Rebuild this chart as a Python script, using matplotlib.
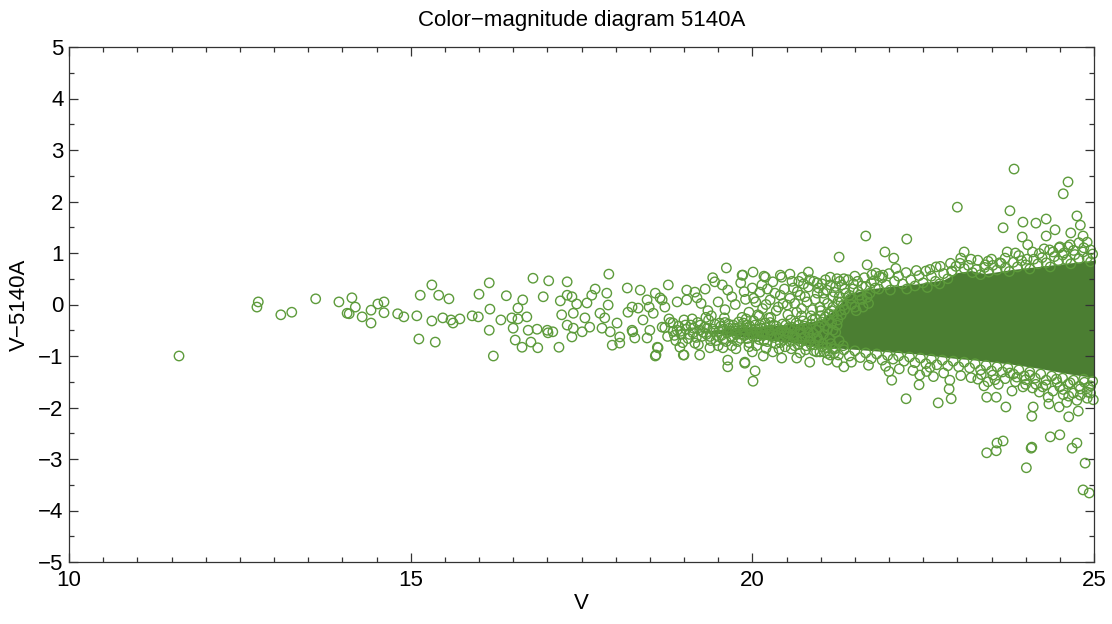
import numpy as np
import matplotlib
matplotlib.use("Agg")
import matplotlib.pyplot as plt
from matplotlib.ticker import MultipleLocator

# === STAR LISTS: (V, V-5140A) ===
bright_stars = [
    (11.61, -1.00), (12.77, 0.05), (12.75, -0.05), (13.10, -0.20), (13.26, -0.15),
    (13.61, 0.11), (13.95, 0.05), (14.14, 0.13), (14.19, -0.05), (14.07, -0.17),
    (14.10, -0.18), (14.29, -0.24), (14.42, -0.11), (14.42, -0.36), (14.52, 0.01),
    (14.61, 0.05), (14.61, -0.16), (14.81, -0.18), (14.90, -0.24), (15.09, -0.22),
    (15.14, 0.18), (15.12, -0.67), (15.31, 0.38), (15.41, 0.18), (15.56, 0.11),
    (15.31, -0.32), (15.36, -0.73), (15.47, -0.26), (15.59, -0.30), (15.62, -0.36),
    (15.72, -0.28), (15.90, -0.22), (15.99, -0.24), (16.00, 0.20), (16.15, 0.42),
    (16.16, -0.09), (16.15, -0.50), (16.21, -1.00), (16.32, -0.30), (16.40, 0.17),
    (16.48, -0.26), (16.50, -0.46), (16.57, -0.07), (16.57, -0.28), (16.64, 0.09),
    (16.63, -0.83), (16.53, -0.69), (16.70, -0.24), (16.72, -0.50), (16.79, 0.51),
    (16.76, -0.73), (16.85, -0.48), (16.86, -0.84), (16.94, 0.15), (17.02, 0.46),
    (17.00, -0.50), (17.01, -0.55), (17.08, -0.53), (17.17, -0.83), (17.19, 0.07),
    (17.21, -0.20), (17.29, 0.44), (17.29, 0.18), (17.36, 0.15), (17.38, -0.17),
    (17.29, -0.40), (17.38, -0.46), (17.36, -0.63), (17.43, 0.01), (17.51, -0.53),
    (17.55, -0.26), (17.58, 0.03), (17.62, -0.44), (17.65, 0.18), (17.70, 0.30),
    (17.77, -0.17), (17.80, -0.46), (17.87, 0.22), (17.90, 0.59), (17.89, -0.01),
    (17.84, -0.26), (17.92, -0.53), (17.95, -0.79), (18.02, -0.36), (18.06, -0.63),
    (18.17, 0.32), (18.18, -0.15), (18.24, -0.50), (18.28, -0.65), (18.33, -0.07),
    (18.36, 0.28), (18.40, -0.30), (18.46, 0.09), (18.50, -0.50), (18.55, -0.17),
    (18.58, 0.22), (18.59, -0.98), (18.61, -0.83), (18.65, 0.13), (18.68, -0.44),
    (18.72, -0.05), (18.77, 0.38), (18.84, -0.36), (18.90, -0.50), (18.99, -0.98),
    (19.04, 0.28), (18.94, -0.83), (18.24, -0.05), (18.49, -0.05), (18.68, 0.09),
    (18.90, 0.05), (19.04, 0.09), (18.06, -0.75), (18.25, -0.53), (18.46, -0.65),
    (18.58, -1.00), (18.62, -0.84), (19.00, -0.98), (19.23, -0.98), (19.38, -0.84),
    (19.57, -0.84), (19.64, -1.08), (19.64, -1.21), (19.89, -1.14), (20.00, -0.92),
    (20.16, -1.00), (20.30, -0.92), (20.43, -1.04), (20.65, -1.04), (20.70, -0.94),
    (20.99, -0.92), (21.14, -0.98), (21.24, -1.12),
]

main_band = [
    (18.72, -0.45), (18.76, -0.62), (18.80, -0.35), (18.84, -0.52), (18.88, -0.70),
    (18.92, -0.42), (18.96, -0.58), (19.00, -0.30), (19.03, -0.48), (19.06, -0.66),
    (19.10, -0.40), (19.13, -0.55), (19.16, -0.75), (19.20, -0.35), (19.23, -0.50),
    (19.26, -0.62), (19.30, -0.44), (19.33, -0.58), (19.36, -0.30), (19.39, -0.70),
    (19.42, -0.48), (19.45, -0.38), (19.48, -0.60), (19.51, -0.52), (19.54, -0.42),
    (19.57, -0.68), (19.60, -0.35), (19.63, -0.55), (19.66, -0.46), (19.69, -0.62),
    (19.72, -0.40), (19.75, -0.52), (19.78, -0.72), (19.81, -0.45), (19.84, -0.58),
    (19.87, -0.36), (19.90, -0.50), (19.93, -0.66), (19.96, -0.42), (19.99, -0.56),
    (20.02, -0.32), (20.05, -0.48), (20.08, -0.62), (20.11, -0.40), (20.14, -0.54),
    (20.17, -0.70), (20.20, -0.45), (20.23, -0.58), (20.26, -0.35), (20.29, -0.50),
    (20.32, -0.64), (20.35, -0.42), (20.38, -0.56), (20.41, -0.74), (20.44, -0.38),
    (20.47, -0.52), (20.50, -0.62), (20.53, -0.45), (20.56, -0.30), (20.59, -0.58),
    (20.62, -0.48), (20.65, -0.68), (20.68, -0.40), (20.71, -0.55), (20.74, -0.32),
    (20.77, -0.62), (20.80, -0.46), (20.83, -0.72), (20.86, -0.38), (20.89, -0.56),
    (20.92, -0.28), (20.95, -0.64), (20.98, -0.44), (21.01, -0.34), (21.04, -0.58),
    (21.07, -0.24), (21.10, -0.48), (21.13, -0.66), (21.16, -0.36), (21.19, -0.20),
    (21.22, -0.54), (21.25, -0.30), (21.28, -0.12), (19.70, -0.80), (19.95, -0.82),
    (20.20, -0.85), (20.48, -0.82), (19.40, -0.22), (19.85, -0.25), (20.10, -0.22),
    (18.95, -0.52), (19.02, -0.40), (19.08, -0.58), (19.14, -0.46), (19.18, -0.64),
    (19.24, -0.40), (19.28, -0.54), (19.34, -0.46), (19.38, -0.62), (19.44, -0.52),
    (19.47, -0.70), (19.52, -0.36), (19.55, -0.60), (19.58, -0.48), (19.62, -0.72),
    (19.65, -0.38), (19.68, -0.52), (19.71, -0.66), (19.74, -0.46), (19.77, -0.58),
    (19.80, -0.34), (19.83, -0.66), (19.86, -0.48), (19.89, -0.60), (19.92, -0.40),
    (19.95, -0.74), (19.98, -0.48), (20.01, -0.62), (20.04, -0.40), (20.07, -0.54),
    (20.10, -0.68), (20.13, -0.46), (20.16, -0.60), (20.19, -0.36), (20.22, -0.72),
    (20.25, -0.50), (20.28, -0.62), (20.31, -0.40), (20.34, -0.76), (20.37, -0.48),
    (20.40, -0.62), (20.43, -0.50), (20.46, -0.68), (20.49, -0.40), (20.52, -0.56),
    (20.55, -0.72), (20.58, -0.44), (20.61, -0.64), (20.64, -0.36), (20.67, -0.78),
    (20.70, -0.48), (20.73, -0.66), (20.76, -0.42), (20.79, -0.80), (20.82, -0.54),
    (20.85, -0.66), (20.88, -0.30), (20.91, -0.78), (20.94, -0.50), (20.97, -0.70),
    (21.00, -0.22), (21.03, -0.76), (21.06, -0.42), (21.09, -0.84), (21.12, -0.30),
    (21.15, -0.76), (21.18, -0.50), (21.21, -0.86), (21.24, -0.40), (21.27, -0.70),
    (21.30, -0.20), (21.33, -0.80),
    (18.78, -0.28), (18.86, -0.60), (18.98, -0.74), (19.12, -0.28), (19.21, -0.78),
    (19.32, -0.25), (19.50, -0.80), (19.59, -0.26), (19.76, -0.86), (19.91, -0.28),
    (20.06, -0.80), (20.24, -0.26), (20.39, -0.86), (20.57, -0.86), (20.72, -0.22),
    (20.90, -0.90), (21.05, -0.92), (21.20, -0.94),
]

upper_cloud = [
    (19.16, 0.24), (19.19, 0.13), (19.31, 0.30), (19.42, 0.52), (19.45, 0.44),
    (19.62, 0.71), (19.56, 0.38), (19.64, 0.28), (19.70, 0.15), (19.85, 0.57),
    (19.83, 0.42), (20.19, 0.53), (20.00, 0.32), (20.11, 0.24), (20.30, 0.44),
    (20.43, 0.53), (20.26, 0.09), (20.41, 0.18), (20.60, 0.32), (20.70, 0.18),
    (20.82, 0.34), (20.95, 0.22), (21.09, 0.28), (21.18, 0.15), (20.51, -0.01),
    (20.80, 0.05), (20.99, -0.05), (21.18, -0.05), (19.50, 0.05), (19.60, -0.10),
    (19.75, 0.00), (19.90, 0.10), (19.95, -0.15), (20.05, 0.05), (20.15, -0.08),
    (20.35, -0.12), (20.55, 0.12), (20.65, -0.15), (20.75, 0.40), (20.88, -0.10),
    (20.90, 0.45), (21.02, 0.40), (21.05, 0.10), (21.12, -0.18), (21.22, 0.35),
    (21.25, 0.05), (21.28, 0.45), (19.35, -0.12), (19.25, 0.02), (19.88, 0.25),
    (20.22, 0.30), (20.45, 0.02), (20.68, 0.45), (21.35, -0.10), (21.45, 0.00),
    (21.52, -0.12), (21.62, -0.05), (21.70, 0.02),
    (20.02, 0.12), (20.08, -0.20), (20.14, 0.38), (20.20, 0.00), (20.27, -0.25),
    (20.33, 0.22), (20.38, -0.05), (20.47, 0.30), (20.52, -0.20), (20.58, 0.45),
    (20.62, 0.02), (20.66, 0.25), (20.72, -0.08), (20.77, 0.15), (20.84, 0.48),
    (20.86, -0.22), (20.92, 0.10), (20.97, 0.32), (21.00, -0.12), (21.04, 0.22),
    (21.07, 0.48), (21.10, 0.02), (21.14, 0.38), (21.16, -0.12), (21.20, 0.24),
    (21.24, 0.50), (21.27, 0.15), (21.31, 0.38), (21.33, -0.02), (21.37, 0.22),
    (21.40, 0.48), (21.44, 0.12), (21.47, 0.30), (21.50, -0.05), (21.54, 0.45),
    (21.57, 0.18), (21.60, 0.36), (21.64, 0.52), (21.68, 0.14), (21.74, 0.42),
    (21.80, 0.32), (21.86, 0.55),
]

upper_edge = [
    (21.30, 0.05), (21.35, 0.30), (21.42, 0.18), (21.48, 0.40), (21.55, 0.25),
    (21.60, 0.10), (21.66, 0.35), (21.72, 0.22), (21.78, 0.46), (21.85, 0.30),
    (21.90, 0.52), (21.96, 0.38), (22.02, 0.28), (22.08, 0.45), (22.14, 0.55),
    (22.20, 0.40), (22.26, 0.30), (22.32, 0.48), (22.38, 0.36), (22.44, 0.56),
    (22.50, 0.42), (22.56, 0.33), (22.62, 0.55), (22.68, 0.45), (22.74, 0.40),
    (22.80, 0.60), (22.86, 0.50), (22.92, 0.64), (22.98, 0.74), (23.04, 0.80),
    (23.10, 0.70), (23.16, 0.76), (23.22, 0.62), (23.28, 0.68), (23.34, 0.58),
    (23.40, 0.72), (23.46, 0.63), (23.52, 0.76), (23.58, 0.67), (23.64, 0.80),
    (23.70, 0.71), (23.76, 0.64), (23.82, 0.82), (23.88, 0.73), (23.94, 0.85),
    (24.00, 0.77), (24.06, 0.69), (24.12, 0.88), (24.18, 0.79), (24.24, 0.91),
    (24.30, 0.81), (24.36, 0.73), (24.42, 0.93), (24.48, 0.85), (24.54, 0.96),
    (24.60, 0.87), (24.66, 0.79), (24.72, 0.97), (24.78, 0.89), (24.84, 1.02),
    (24.90, 0.91), (24.95, 0.83), (24.98, 0.98), (24.70, 1.05), (24.85, 1.10),
    (24.56, 1.00), (24.40, 1.02), (24.20, 0.99), (23.90, 0.95), (23.50, 0.88),
    (23.30, 0.86),
    (21.50, 0.55), (21.75, 0.58), (22.00, 0.60), (22.25, 0.62), (22.40, 0.66),
    (22.60, 0.68), (22.75, 0.74), (23.05, 0.90), (23.20, 0.88), (23.45, 0.84),
    (23.70, 0.90), (23.85, 1.00), (24.10, 1.02), (24.35, 1.06), (24.50, 1.12),
    (24.65, 1.16), (24.95, 1.06), (24.78, 1.20), (22.10, 0.70), (22.90, 0.80),
]

lower_edge = [
    (20.62, -0.80), (20.70, -0.72), (20.78, -0.88), (20.86, -0.78), (20.94, -0.92),
    (21.02, -0.82), (21.10, -0.95), (21.18, -0.86), (21.26, -0.98), (21.34, -0.88),
    (21.42, -1.00), (21.50, -0.90), (21.58, -1.03), (21.66, -0.94), (21.74, -1.05),
    (21.82, -0.96), (21.90, -1.08), (21.98, -0.99), (22.06, -1.06), (22.14, -1.00),
    (22.22, -1.10), (22.30, -1.02), (22.38, -1.13), (22.46, -1.04), (22.54, -1.15),
    (22.62, -1.06), (22.70, -1.17), (22.78, -1.08), (22.86, -1.19), (22.94, -1.10),
    (23.02, -1.21), (23.10, -1.12), (23.18, -1.23), (23.26, -1.15), (23.34, -1.27),
    (23.42, -1.18), (23.50, -1.29), (23.58, -1.21), (23.66, -1.31), (23.74, -1.23),
    (23.82, -1.35), (23.90, -1.27), (23.98, -1.39), (24.06, -1.31), (24.14, -1.43),
    (24.22, -1.35), (24.30, -1.47), (24.38, -1.39), (24.46, -1.51), (24.54, -1.43),
    (24.62, -1.55), (24.70, -1.47), (24.78, -1.59), (24.86, -1.51), (24.92, -1.61),
    (24.98, -1.49), (23.30, -1.45), (23.45, -1.50), (23.60, -1.55), (23.85, -1.50),
    (24.00, -1.55), (24.25, -1.60), (24.40, -1.68), (24.55, -1.65), (24.70, -1.72),
    (24.80, -1.64), (24.95, -1.72), (24.90, -1.82), (24.75, -1.86), (24.60, -1.90),
    (24.15, -1.55), (24.45, -1.45), (24.65, -1.52), (24.85, -1.45),
    (21.10, -1.08), (21.45, -1.12), (21.70, -1.18), (21.95, -1.20), (22.15, -1.25),
    (22.35, -1.28), (22.55, -1.30), (22.65, -1.40), (22.80, -1.33), (23.05, -1.38),
    (23.20, -1.42), (23.35, -1.36), (23.55, -1.46), (23.70, -1.44), (24.00, -1.46),
    (24.10, -1.62), (24.30, -1.56), (24.55, -1.75), (24.80, -1.76), (24.95, -1.58),
    (22.00, -1.30), (22.60, -1.22),
]

outliers = [
    (23.83, 2.63), (24.62, 2.38), (24.55, 2.15), (23.00, 1.89), (23.77, 1.82),
    (23.67, 1.49), (23.96, 1.60), (24.15, 1.58), (24.30, 1.66), (24.43, 1.45),
    (23.95, 1.31), (24.30, 1.33), (24.75, 1.72), (24.80, 1.54), (24.66, 1.39),
    (24.84, 1.33), (24.90, 1.21), (24.03, 1.16), (24.27, 1.08), (24.49, 1.10),
    (24.62, 1.12), (23.73, 1.02), (23.10, 1.02), (21.66, 1.33), (22.26, 1.27),
    (21.94, 1.02), (22.07, 0.90), (21.27, 0.92), (21.68, 0.77), (21.81, 0.61),
    (21.91, 0.57), (20.01, 0.63), (20.17, 0.55), (19.86, 0.57), (20.41, 0.57),
    (20.55, 0.59), (20.82, 0.63), (20.73, 0.53), (21.14, 0.53), (21.34, 0.50),
    (20.95, 0.42), (22.54, 0.65), (22.69, 0.73), (22.92, 0.65), (23.41, 0.77),
    (23.62, 0.81), (24.02, 0.88),
    (22.04, -1.47), (22.45, -1.37), (22.44, -1.56), (22.25, -1.83), (22.72, -1.91),
    (22.89, -1.47), (22.88, -1.64), (22.91, -1.83), (23.39, -1.58), (23.43, -1.80),
    (23.57, -1.80), (23.71, -1.99), (23.80, -1.68), (23.96, -1.60), (24.11, -1.99),
    (24.09, -2.17), (24.20, -1.70), (24.33, -1.80), (24.34, -1.93), (24.49, -1.99),
    (24.63, -2.18), (24.77, -2.07), (24.63, -1.78), (24.50, -1.60), (24.90, -1.70),
    (24.99, -1.85), (24.36, -2.57), (24.50, -2.53), (24.75, -2.69), (23.58, -2.69),
    (23.67, -2.65), (24.09, -2.77), (23.87, -1.41), (23.77, -1.33), (23.52, -1.37),
    (24.06, -1.37), (19.89, -1.12), (20.04, -1.29), (20.01, -1.49), (20.84, -1.12),
    (21.34, -1.21), (23.43, -2.88), (23.57, -2.84), (24.08, -2.79), (24.01, -3.17),
    (24.68, -2.79), (24.87, -3.08), (24.84, -3.60), (24.93, -3.66),
]

# saturated middle of the sequence, where the markers overlap completely
core_v = [19.4, 19.8, 20.2, 20.6, 21.0, 21.2, 21.4, 21.7, 22.0, 22.4, 22.8,
          23.0, 23.2, 23.4, 23.8, 24.2, 24.6, 25.0]
core_top = [-0.50, -0.44, -0.42, -0.38, -0.30, -0.10, 0.20, 0.30, 0.35, 0.40, 0.48,
            0.62, 0.66, 0.60, 0.68, 0.74, 0.80, 0.86]
core_bot = [-0.55, -0.62, -0.68, -0.74, -0.82, -0.84, -0.86, -0.89, -0.92, -0.96, -1.02,
            -1.05, -1.07, -1.10, -1.16, -1.24, -1.34, -1.42]

ring_color = "#5d9b3b"
core_color = "#4b7e32"

stars = np.array(bright_stars + main_band + upper_cloud + upper_edge + lower_edge + outliers)

plt.rcParams["font.family"] = ["Liberation Sans", "DejaVu Sans"]

fig = plt.figure(figsize=(11.12, 6.24), dpi=100)
ax = fig.add_axes([69 / 1112, 62 / 624, 1025 / 1112, 515 / 624])

ax.fill_between(core_v, core_bot, core_top, color=core_color, lw=0, zorder=1)
ax.scatter(stars[:, 0], stars[:, 1], s=46, facecolors="none",
           edgecolors=ring_color, linewidths=1.0, zorder=2, clip_on=False)

ax.set_xlim(10, 25)
ax.set_ylim(-5, 5)
ax.xaxis.set_major_locator(MultipleLocator(5))
ax.xaxis.set_minor_locator(MultipleLocator(0.5))
ax.yaxis.set_major_locator(MultipleLocator(1))
ax.yaxis.set_minor_locator(MultipleLocator(0.5))
ax.tick_params(which="both", direction="in", top=True, right=True,
               colors="#333333", labelcolor="black", labelsize=16)
ax.tick_params(which="major", length=6.5, width=0.9)
ax.tick_params(which="minor", length=3.5, width=0.9)
ax.tick_params(axis="x", pad=6)
ax.tick_params(axis="y", pad=4)
for sp in ax.spines.values():
    sp.set_color("#333333")
    sp.set_linewidth(0.9)

ax.set_title("Color\u2212magnitude diagram 5140A", fontsize=16, pad=15)
ax.set_xlabel("V", fontsize=16, labelpad=1)
ax.set_ylabel("V\u22125140A", fontsize=16, labelpad=6)

fig.savefig("out.png", dpi=100)
